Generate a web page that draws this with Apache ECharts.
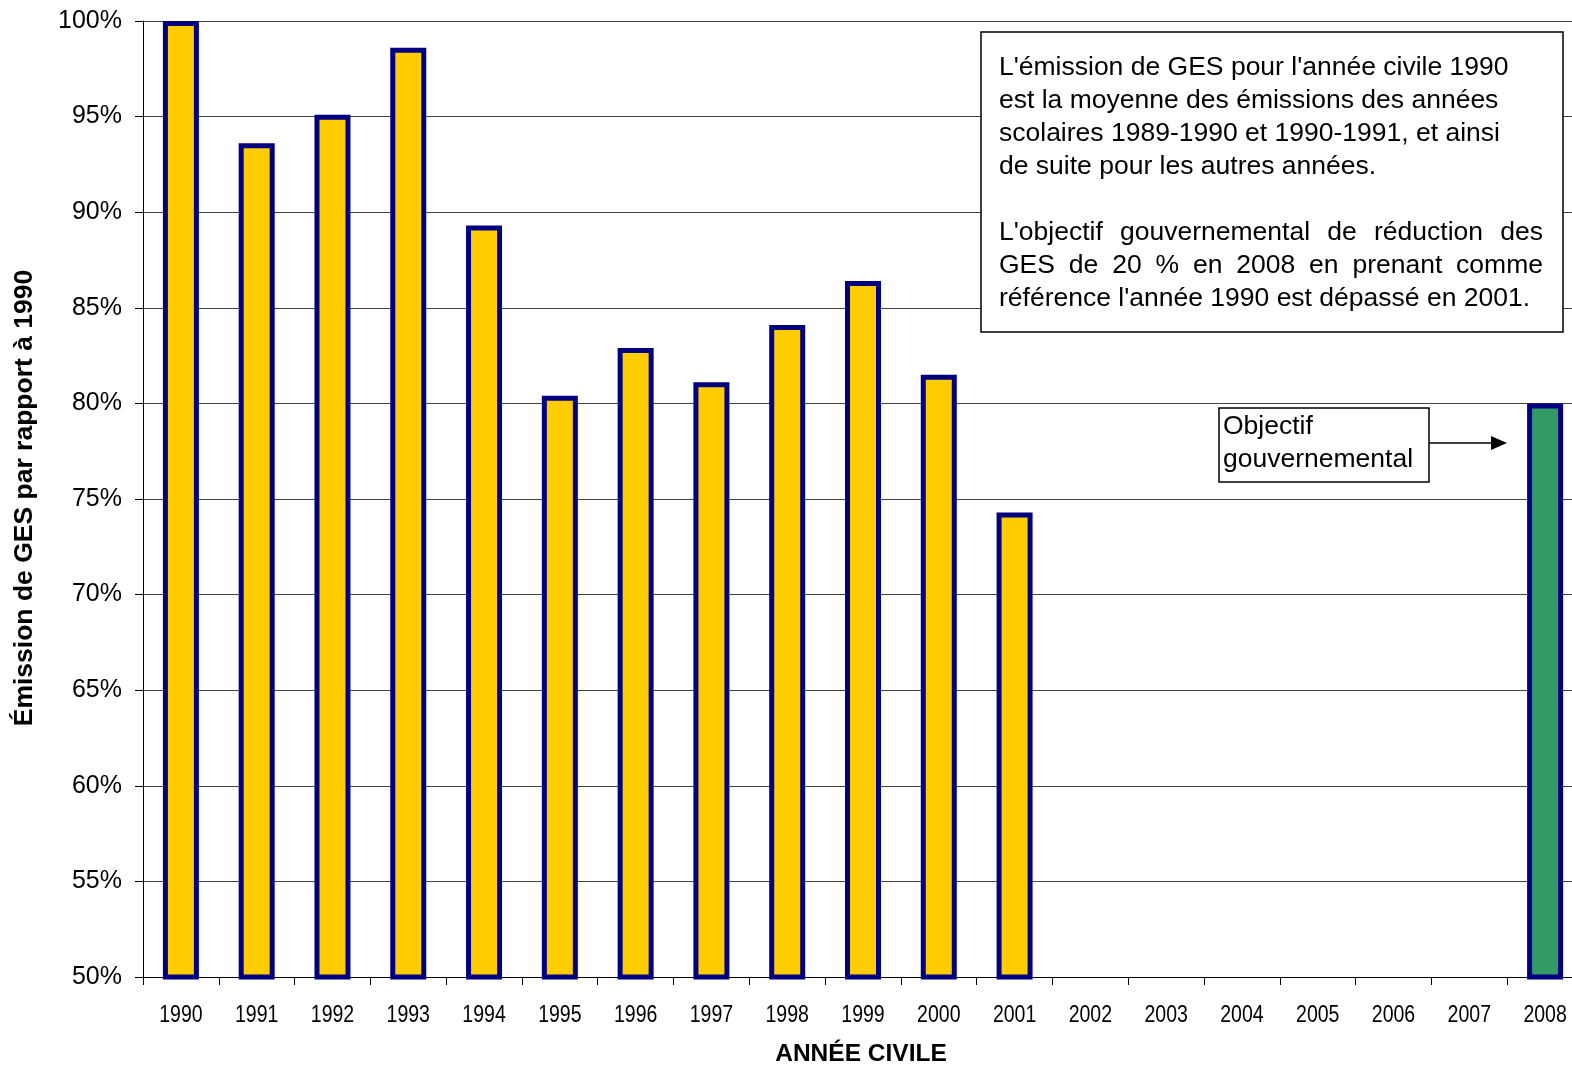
<!DOCTYPE html>
<html>
<head>
<meta charset="utf-8">
<script src="https://cdn.jsdelivr.net/npm/echarts@6/dist/echarts.min.js"></script>
<style>
  html, body { margin: 0; padding: 0; background: #fff; overflow: hidden; }
  #chart { width: 1600px; height: 1067px; }
</style>
</head>
<body>
<div id="chart"></div>
<script>
// Calendar years on the category axis
const years = ['1990', '1991', '1992', '1993', '1994', '1995', '1996', '1997', '1998', '1999',
               '2000', '2001', '2002', '2003', '2004', '2005', '2006', '2007', '2008'];

// GHG emissions relative to 1990 (%)
const emissions = [100, 93.6, 95.1, 98.6, 89.3, 80.4, 82.9, 81.1, 84.1, 86.4, 81.5, 74.3,
                   null, null, null, null, null, null, null];

// Government target for 2008 (%)
const objectif = [null, null, null, null, null, null, null, null, null, null, null, null,
                  null, null, null, null, null, null, 80];

// Value axis range (%)
const yMin = 50, yMax = 100, yStep = 5;

// Note box text
const noteIntro = [
  "L'émission de GES pour l'année civile 1990",
  "est la moyenne des émissions des années",
  "scolaires 1989-1990 et 1990-1991, et ainsi",
  "de suite pour les autres années."
];
const noteGoal = [
  "L'objectif gouvernemental de réduction des",
  "GES de 20 % en 2008 en prenant comme",
  "référence l'année 1990 est dépassé en 2001."
];
const targetLabel = ['Objectif', 'gouvernemental'];

const FONT = '"Liberation Sans", Arial, sans-serif';
const chart = echarts.init(document.getElementById('chart'));

const barStyle = (fill) => ({ color: fill, borderColor: '#000080', borderWidth: 5 });

chart.setOption({
  animation: false,
  backgroundColor: '#fff',
  grid: { left: 143, top: 21, width: 1440, height: 956, containLabel: false },
  xAxis: {
    type: 'category',
    data: years,
    boundaryGap: true,
    axisLine: { show: true, lineStyle: { color: '#000', width: 1 } },
    axisTick: { show: true, interval: 0, length: 8, lineStyle: { color: '#000', width: 1 } },
    axisLabel: { show: false },
    splitLine: { show: false }
  },
  yAxis: {
    type: 'value',
    min: yMin, max: yMax, interval: yStep,
    axisLine: { show: true, lineStyle: { color: '#000', width: 1 } },
    axisTick: { show: true, length: 8, lineStyle: { color: '#000', width: 1 } },
    axisLabel: {
      margin: 21, color: '#000', fontSize: 25, fontFamily: FONT,
      formatter: '{value}%'
    },
    splitLine: { show: true, lineStyle: { color: '#444', width: 1 } }
  },
  series: [
    {
      name: 'Émission de GES',
      type: 'bar',
      data: emissions,
      barWidth: 36,
      barGap: '-100%',
      itemStyle: barStyle('#FFCC00'),
      z: 3
    },
    {
      name: 'Objectif gouvernemental',
      type: 'bar',
      data: objectif,
      barWidth: 36,
      barGap: '-100%',
      itemStyle: barStyle('#339966'),
      z: 3
    }
  ]
});

// Measure words to spread a justified line over the box width
const ctx = document.createElement('canvas').getContext('2d');
const noteFontSize = 26.5;
ctx.font = noteFontSize + 'px ' + FONT;

function textEl(text, x, y, extra) {
  return {
    type: 'text', z: 20,
    style: Object.assign({
      text: text, x: x, y: y,
      fill: '#000',
      fontSize: noteFontSize, fontFamily: FONT,
      textAlign: 'left', textVerticalAlign: 'middle'
    }, extra || {})
  };
}

function justifiedLine(text, left, right, y) {
  const words = text.split(' ');
  const widths = words.map(w => ctx.measureText(w).width);
  const total = widths.reduce((a, b) => a + b, 0);
  const gap = (right - left - total) / (words.length - 1);
  const els = [];
  let x = left;
  words.forEach((w, i) => {
    els.push(textEl(w, x, y));
    x += widths[i] + gap;
  });
  return els;
}

const boxL = 981, boxT = 32, boxW = 582, boxH = 300;
const textL = 999, textR = 1543;
const lineH = 33;

const graphics = [
  {
    type: 'rect', z: 19,
    shape: { x: boxL, y: boxT, width: boxW, height: boxH },
    style: { fill: '#fff', stroke: '#000', lineWidth: 1.5 }
  }
];
noteIntro.forEach((t, i) => graphics.push(textEl(t, textL, 68 + i * lineH)));
graphics.push(...justifiedLine(noteGoal[0], textL, textR, 233));
graphics.push(...justifiedLine(noteGoal[1], textL, textR, 233 + lineH));
graphics.push(textEl(noteGoal[2], textL, 233 + 2 * lineH));

// Target label box with arrow pointing to the 2008 bar
graphics.push({
  type: 'rect', z: 19,
  shape: { x: 1219, y: 408, width: 210, height: 74 },
  style: { fill: '#fff', stroke: '#000', lineWidth: 1.5 }
});
targetLabel.forEach((t, i) => graphics.push(textEl(t, 1223, 427 + i * lineH)));
graphics.push({
  type: 'line', z: 19,
  shape: { x1: 1429, y1: 443, x2: 1493, y2: 443 },
  style: { stroke: '#000', lineWidth: 1.5 }
});
graphics.push({
  type: 'polygon', z: 19,
  shape: { points: [[1491, 436], [1507, 443], [1491, 450]] },
  style: { fill: '#000' }
});

// Year labels: narrow-looking digits placed at each category centre
const axisY = chart.convertToPixel({ yAxisIndex: 0 }, yMin);
years.forEach((yr) => {
  const cx = chart.convertToPixel({ xAxisIndex: 0 }, yr);
  graphics.push({
    type: 'text', z: 20,
    x: cx, y: axisY + 39, scaleX: 0.83,
    style: {
      text: yr, x: 0, y: 0,
      fill: '#000', fontSize: 23.5, fontFamily: FONT,
      textAlign: 'center', textVerticalAlign: 'middle'
    }
  });
});

// Axis titles
graphics.push({
  type: 'text', z: 20,
  x: 25, y: 498, rotation: Math.PI / 2,
  style: {
    text: 'Émission de GES par rapport à 1990',
    fill: '#000', fontSize: 26.5, fontWeight: 'bold', fontFamily: FONT,
    textAlign: 'center', textVerticalAlign: 'middle'
  }
});
graphics.push({
  type: 'text', z: 20,
  x: 861, y: 1054,
  style: {
    text: 'ANNÉE CIVILE',
    fill: '#000', fontSize: 24.5, fontWeight: 'bold', fontFamily: FONT,
    textAlign: 'center', textVerticalAlign: 'middle'
  }
});

chart.setOption({ graphic: graphics });
</script>
</body>
</html>
